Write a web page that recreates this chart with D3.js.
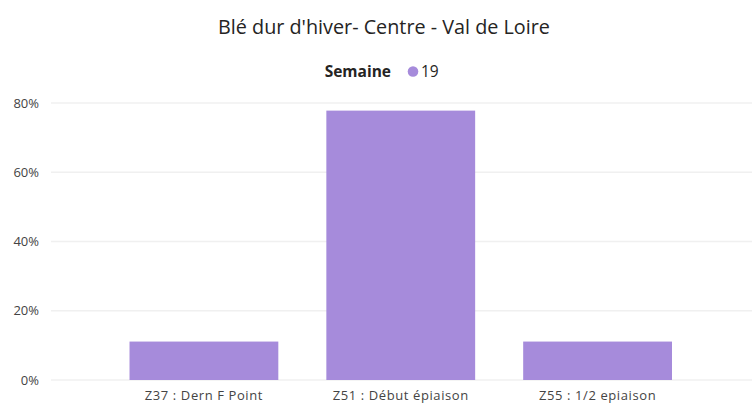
<!DOCTYPE html>
<html>
<head>
<meta charset="utf-8">
<script src="https://cdn.jsdelivr.net/npm/d3@7"></script>
<style>
  body { margin: 0; background: #fff; }
  svg { display: block; font-family: "Open Sans", "Noto Sans", sans-serif; }
  .title { font-size: 19.8px; fill: #252423; }
  .legend-title { font-size: 15.5px; font-weight: bold; fill: #252423; }
  .legend-label { font-size: 15.5px; fill: #252423; }
  .axis text { font-family: "Open Sans", "Noto Sans", sans-serif; font-size: 13px; fill: #444; }
  .x-axis text { letter-spacing: 0.6px; }
  .axis path, .axis line { display: none; }
  .grid line { stroke: #f0f0f0; stroke-width: 1.5; }
</style>
</head>
<body>
<svg id="chart" width="752" height="406"></svg>
<script>
var categories = ["Z37 : Dern F Point", "Z51 : Début épiaison", "Z55 : 1/2 epiaison"];
var values = [0.111, 0.778, 0.111];
var yTicks = [0, 0.2, 0.4, 0.6, 0.8];
var seriesName = "19";
var legendTitle = "Semaine";
var chartTitle = "Blé dur d'hiver- Centre - Val de Loire";

var svg = d3.select("#chart");
var barColor = "#a68bdb";

// plot area
var plotLeft = 51, plotRight = 752, plotTop = 103, plotBottom = 380;

var x = d3.scaleBand()
  .domain(categories)
  .range([105.5, 696])
  .paddingInner(0.244)
  .paddingOuter(0.122);

var y = d3.scaleLinear()
  .domain([0, 0.8])
  .range([plotBottom, plotTop]);

// Title and legend
svg.append("text")
  .attr("class", "title")
  .attr("x", 384)
  .attr("y", 34)
  .attr("text-anchor", "middle")
  .text(chartTitle);

var legend = svg.append("g");
legend.append("text")
  .attr("class", "legend-title")
  .attr("x", 391)
  .attr("y", 77)
  .attr("text-anchor", "end")
  .text(legendTitle);
legend.append("circle")
  .attr("cx", 413)
  .attr("cy", 71.5)
  .attr("r", 5.3)
  .attr("fill", barColor);
legend.append("text")
  .attr("class", "legend-label")
  .attr("x", 421)
  .attr("y", 77)
  .text(seriesName);

// Gridlines
svg.append("g")
  .attr("class", "grid")
  .selectAll("line")
  .data(yTicks)
  .enter().append("line")
  .attr("x1", plotLeft)
  .attr("x2", plotRight)
  .attr("y1", function(d) { return y(d); })
  .attr("y2", function(d) { return y(d); });

// Y axis
svg.append("g")
  .attr("class", "axis")
  .attr("transform", "translate(39,0)")
  .call(d3.axisLeft(y).tickValues(yTicks).tickSize(0).tickPadding(0)
    .tickFormat(d3.format(".0%")));

// Bars
svg.append("g")
  .selectAll("rect")
  .data(values)
  .enter().append("rect")
  .attr("x", function(d, i) { return x(categories[i]); })
  .attr("y", function(d) { return y(d); })
  .attr("width", x.bandwidth())
  .attr("height", function(d) { return plotBottom - y(d); })
  .attr("fill", barColor);

// X axis
svg.append("g")
  .attr("class", "axis x-axis")
  .attr("transform", "translate(0," + plotBottom + ")")
  .call(d3.axisBottom(x).tickSize(0).tickPadding(11));
</script>
</body>
</html>
